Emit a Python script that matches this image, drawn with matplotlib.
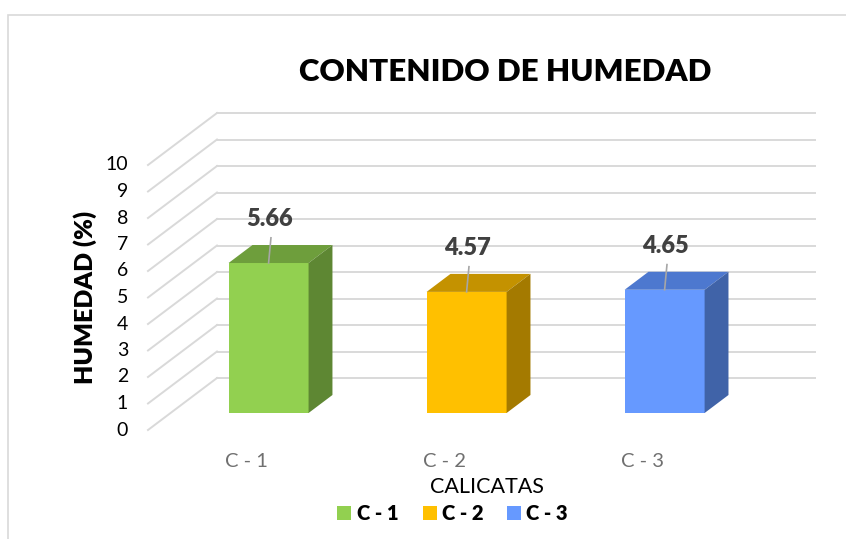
import numpy as np
import matplotlib
matplotlib.use("Agg")
import matplotlib.pyplot as plt
from matplotlib.patches import Polygon, Rectangle

# datos
categorias = ["C - 1", "C - 2", "C - 3"]
humedad = [5.66, 4.57, 4.65]
etiquetas = ["5.66", "4.57", "4.65"]
ticks_y = list(range(0, 11))

# colores: frente, tapa, lado
c_frente = ["#92D050", "#FFC000", "#6699FF"]
c_tapa = ["#6E9E3C", "#C49200", "#4D78CF"]
c_lado = ["#5E8733", "#A47A00", "#4063A8"]

plt.rcParams['font.family'] = ['Lato', 'DejaVu Sans']

fig = plt.figure(figsize=(8.46, 5.39), dpi=100)
# ax = pared del fondo
ax = fig.add_axes([217/846, 1-378/539, 598/846, 265/539])
ax.set_xlim(-0.495, 2.525)
ax.set_ylim(0, 10)
ax.axis("off")

DX = -69/198      # desplazamiento de profundidad (frente vs fondo)
DY = -52/26.5
d0, d1 = 0.327, 0.673   # profundidad de las barras (0=frente, 1=fondo)
w = 0.404

def proj(x, v, d):
    return (x + DX*(1-d), v + DY*(1-d))

gris = "#D9D9D9"
x0, x1 = ax.get_xlim()
for v in ticks_y:
    ax.plot([x0, x1], [v, v], color=gris, lw=1.4, clip_on=False, zorder=1)
    a = proj(x0, v, 0)
    ax.plot([a[0], x0], [a[1], v], color=gris, lw=1.4, clip_on=False, zorder=1)
    ax.text(a[0]-0.1, a[1], str(v), ha="right", va="center", fontsize=14,
            color="#000000")

for i, v in enumerate(humedad):
    xl, xr = i - w/2, i + w/2
    fl = proj(xl, 0, d0); fr = proj(xr, 0, d0)
    tl = proj(xl, v, d0); tr = proj(xr, v, d0)
    btl = proj(xl, v, d1); btr = proj(xr, v, d1); bbr = proj(xr, 0, d1)
    ax.add_patch(Polygon([fl, fr, tr, tl], closed=True, fc=c_frente[i],
                         ec="none", clip_on=False, zorder=3))
    ax.add_patch(Polygon([tl, tr, btr, btl], closed=True, fc=c_tapa[i],
                         ec="none", clip_on=False, zorder=3))
    ax.add_patch(Polygon([fr, bbr, btr, tr], closed=True, fc=c_lado[i],
                         ec="none", clip_on=False, zorder=3))
    cx = proj(i, v, d0)
    ax.plot([cx[0], cx[0]+0.012], [cx[1], cx[1]+0.95], color="#A6A6A6",
            lw=1.2, clip_on=False, zorder=4)
    ax.text(cx[0]+0.005, cx[1]+1.65, etiquetas[i], ha="center", va="center",
            fontsize=17, fontweight="heavy", color="#404040", zorder=5)
    b = proj(i, 0, 0)
    ax.text(b[0], b[1]-1.2, categorias[i], ha="center", va="center",
            fontsize=14.5, color="#707070")

fig.text(505/846, 1-72/539, "CONTENIDO DE HUMEDAD", ha="center", va="center",
         fontsize=22.5, fontweight="heavy", color="#000000")
fig.text(85/846, 1-297/539, "HUMEDAD (%)", ha="center", va="center",
         rotation=90, fontsize=18, fontweight="heavy", color="#000000")
fig.text(487/846, 1-487/539, "CALICATAS", ha="center", va="center",
         fontsize=15.5, color="#000000")

# leyenda
ley_cuadro = [337, 423, 507]
ley_texto = [357, 442, 526]
for i, cat in enumerate(categorias):
    fig.patches.append(Rectangle((ley_cuadro[i]/846, 1-520/539), 14/846, 14/539,
                                 transform=fig.transFigure, fc=c_frente[i],
                                 ec="none"))
    fig.text(ley_texto[i]/846, 1-513/539, cat, ha="left", va="center",
             fontsize=14.5, fontweight="heavy", color="#000000")

# borde del area del grafico
fig.patches.append(Rectangle((8/846, -0.01), 1.0, 1-15/539+0.01,
                             transform=fig.transFigure, fill=False,
                             ec=gris, lw=1.2))

fig.savefig("out.png", dpi=100)
